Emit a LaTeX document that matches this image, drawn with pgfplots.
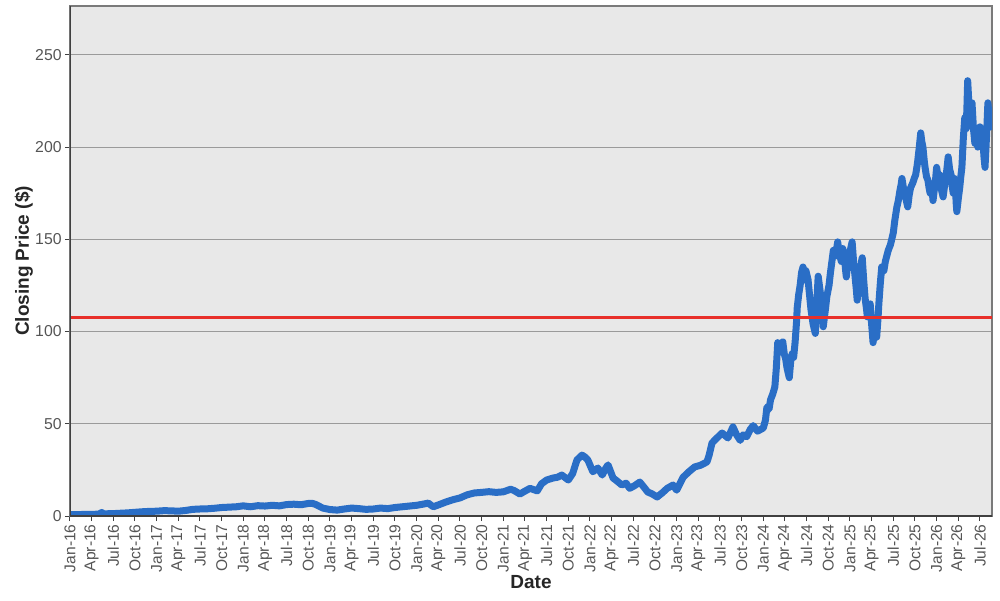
\documentclass[border=0pt]{standalone}
\usepackage{pgfplots}
\pgfplotsset{compat=1.18}
\usepackage{fontspec}
\setmainfont{Liberation Sans}
\definecolor{plotbg}{HTML}{E8E8E8}
\definecolor{gridc}{HTML}{9A9A9A}
\definecolor{ticklab}{HTML}{555555}
\definecolor{axdark}{HTML}{404040}
\definecolor{boxgray}{HTML}{7A7A7A}
\definecolor{priceblue}{HTML}{2A6EC6}
\definecolor{refred}{HTML}{E8302A}

\begin{document}
\begin{tikzpicture}
\useasboundingbox (-35pt,-42pt) rectangle (465pt,258pt);
\begin{axis}[
    at={(0,0)}, anchor=south west,
    scale only axis,
    width=461pt, height=255pt,
    xmin=0, xmax=127.67,
    ymin=0, ymax=276.5,
    axis background/.style={fill=plotbg},
    axis line style={boxgray, line width=0.6pt},
    xtick={0,3,...,126},
    xticklabels={Jan-16,Apr-16,Jul-16,Oct-16,Jan-17,Apr-17,Jul-17,Oct-17,Jan-18,Apr-18,Jul-18,Oct-18,Jan-19,Apr-19,Jul-19,Oct-19,Jan-20,Apr-20,Jul-20,Oct-20,Jan-21,Apr-21,Jul-21,Oct-21,Jan-22,Apr-22,Jul-22,Oct-22,Jan-23,Apr-23,Jul-23,Oct-23,Jan-24,Apr-24,Jul-24,Oct-24,Jan-25,Apr-25,Jul-25,Oct-25,Jan-26,Apr-26,Jul-26},
    ytick={0,50,100,150,200,250},
    yticklabels={0,50,100,150,200,250},
    xticklabel style={rotate=90, anchor=east, font=\fontsize{7.8}{9}\selectfont, text=ticklab, inner sep=1.5pt},
    yticklabel style={font=\fontsize{7.9}{9}\selectfont, text=ticklab, inner sep=1.5pt},
    tick align=outside,
    major tick length=2.5pt,
    tick style={axdark, line width=0.5pt},
    xtick pos=bottom, ytick pos=left,
    ymajorgrids,
    grid style={gridc, line width=0.6pt},
    xlabel={\textbf{Date}},
    ylabel={\textbf{Closing Price (\$)}},
    label style={font=\fontsize{9.5}{11}\selectfont, text=black!85},
    xlabel style={at={(axis description cs:0.5,-0.1294)}, anchor=center},
    ylabel style={at={(axis description cs:-0.05,0.5)}, anchor=center},
    clip=true,
]
\addplot[priceblue, line width=3.5pt, line join=round] coordinates {
(0,0.8)(1,0.7)(2,0.9)(3,0.9)(4,1.0)(4.4,1.9)(4.7,1.1)(5,1.2)(6,1.3)(7,1.5)(8,1.7)(9,2.0)(10,2.3)(11,2.5)(12,2.6)(13,2.9)(14,2.8)(15,2.6)(16,3.0)(17,3.6)(18,3.8)(19,3.9)(20,4.2)(21,4.6)(22,4.8)(23,5.0)(24,5.5)(25,5.0)(26,5.6)(27,5.4)(28,5.8)(29,5.5)(30,6.2)(31,6.4)(32,6.1)(33,6.8)(33.5,6.9)(34,6.3)(35,4.3)(36,3.5)(37,3.2)(38,3.8)(39,4.3)(40,4.0)(41,3.6)(42,3.8)(43,4.3)(44,4.0)(45,4.6)(46,5.0)(47,5.4)(48,5.8)(49,6.5)(49.6,7.0)(50.3,5.0)(51,6.0)(52,7.5)(53,8.8)(54,9.8)(55,11.5)(56,12.5)(57,12.8)(58,13.2)(59,12.8)(60,13.1)(61,14.5)(61.5,13.8)(62.3,11.9)(63,13.5)(63.7,15)(64.7,13.6)(65.3,17.5)(66,19.5)(66.9,20.6)(67.5,21.0)(68.1,22.2)(69,19.5)(69.6,23)(70.2,30.4)(70.9,33)(71.3,32)(71.7,30.4)(72.4,24)(73.1,26)(73.7,22.2)(74.2,26)(74.5,27.7)(75.2,20.6)(75.8,18.8)(76.4,16.8)(77,17.8)(77.5,15)(78.2,16.5)(78.9,18.4)(79.4,16)(80,13)(80.6,12)(81.3,10.3)(82,12.5)(82.7,15)(83.5,16.8)(84,14)(84.9,21)(85.7,24)(86.5,26.6)(87.3,27.5)(88.2,29.3)(88.5,33)(88.9,39.6)(89.5,42)(90.3,45)(91.1,42.3)(91.8,48.3)(92.3,44)(92.8,41)(93.2,44)(93.7,43)(94.2,47)(94.6,49)(95.2,46)(96,47.7)
(96.3,52)(96.5,59)(96.8,58)(97,63)(97.3,66)(97.6,70)(97.8,80)(98,94)(98.2,89)(98.4,93)(98.7,94.4)(98.9,88)(99.1,85)(99.3,80)(99.6,75)(99.8,84)(100,88)(100.2,86)(100.4,94)(100.6,105)(100.7,113)(100.9,120)(101.1,125)(101.3,132)(101.5,135)(101.7,128)(101.9,133)(102.2,128)(102.4,120)(102.6,112)(102.9,104)(103.2,99)(103.4,115)(103.6,130)(103.8,124)(104,118)(104.2,108)(104.3,102.6)(104.6,112)(104.8,119)(105.1,125)(105.3,132)(105.5,138)(105.7,144)(106,141)(106.3,148.6)(106.5,143)(106.8,138)(107,145)(107.2,142)(107.4,133)(107.5,129.6)(107.7,137)(107.9,140)(108.1,145)(108.3,148.6)(108.5,138)(108.7,130)(108.9,122)(109,117)(109.2,126)(109.4,132)(109.6,138)(109.7,140)(109.9,128)(110.1,118)(110.3,112)(110.4,108)(110.6,113)(110.8,115)(111,104)(111.2,94)(111.4,100)(111.7,97)(111.9,108)(112,115)(112.2,126)(112.4,135)(112.7,133)(112.9,138)(113.1,141)(113.3,144)(113.6,147)(114,153.5)(114.2,160)(114.5,167.6)(114.7,171)(114.9,176)(115.1,180)(115.2,183)(115.4,178)(115.6,175)(115.8,171)(116,167.6)(116.2,174)(116.4,178)(116.7,180.6)(116.9,183)(117.1,185)(117.3,190)(117.4,193)(117.6,200)(117.8,207.7)(117.95,203)(118.1,200)(118.3,192)(118.4,189)(118.6,184)(118.8,182)(118.95,178)(119.1,175)(119.3,180)(119.5,171)(119.65,176)(119.8,180)(120,189)(120.2,184)(120.4,185)(120.6,178)(120.9,173)(121.1,179)(121.3,184)(121.45,189)(121.6,194.7)(121.8,188)(122,185)(122.15,179)(122.3,175)(122.45,183)(122.6,180)(122.7,170)(122.8,165)(123,172)(123.2,178)(123.35,184)(123.5,189)(123.7,205)(123.9,216)(124.1,210)(124.2,222)(124.3,236)(124.45,225)(124.6,218)(124.75,212)(124.9,224)(125.1,210)(125.3,202)(125.5,208)(125.7,200)(125.85,206)(126,211)(126.2,200)(126.4,205)(126.55,195)(126.7,189)(126.9,205)(127.1,224)(127.3,215)(127.5,211)(127.6,222)
};
\addplot[refred, line width=1.5pt] coordinates {(0,107.4)(127.67,107.4)};
\draw[axdark, line width=0.6pt] (rel axis cs:0,0) -- (rel axis cs:0,1);
\draw[axdark, line width=0.6pt] (rel axis cs:0,0) -- (rel axis cs:1,0);
\end{axis}
\end{tikzpicture}
\end{document}
